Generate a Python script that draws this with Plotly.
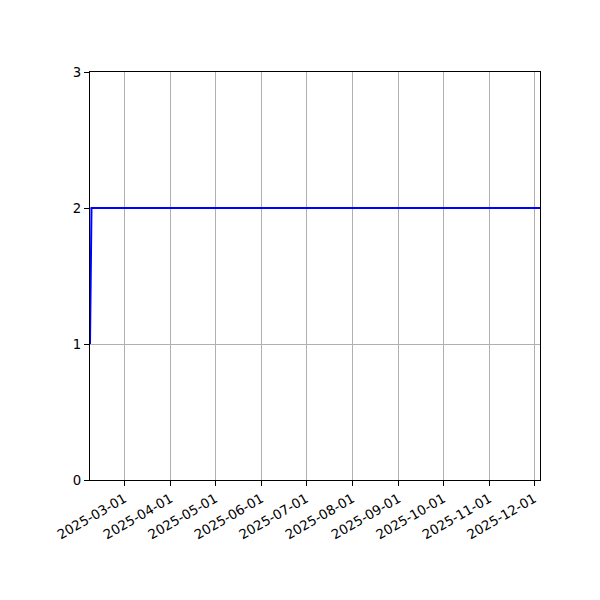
import plotly.graph_objects as go

dates = ["2025-02-06", "2025-02-07", "2025-12-05"]
values = [1, 2, 2]
tick_dates = ["2025-03-01", "2025-04-01", "2025-05-01", "2025-06-01", "2025-07-01",
              "2025-08-01", "2025-09-01", "2025-10-01", "2025-11-01", "2025-12-01"]
y_ticks = [0, 1, 2, 3]

fig = go.Figure()
fig.add_trace(go.Scatter(x=dates, y=values, mode="lines",
                         line=dict(color="#0000ff", width=2), showlegend=False))

fig.update_layout(
    width=600, height=600,
    margin=dict(l=82, r=68, t=64, b=128),
    paper_bgcolor="white", plot_bgcolor="white",
    font=dict(family="DejaVu Sans", size=13.3, color="black"),
)
fig.update_xaxes(
    type="date", range=["2025-02-06", "2025-12-05"],
    tickvals=tick_dates, ticktext=tick_dates, tickangle=-30,
    showgrid=True, gridcolor="#b0b0b0", gridwidth=1,
    showline=True, linecolor="black", linewidth=1, mirror=True,
    ticks="outside", ticklen=5, tickcolor="black", zeroline=False,
)
fig.update_yaxes(
    range=[0, 3], tickvals=y_ticks,
    showgrid=True, gridcolor="#b0b0b0", gridwidth=1,
    showline=True, linecolor="black", linewidth=1, mirror=True,
    ticks="outside", ticklen=5, tickcolor="black", zeroline=False,
)

fig.write_html("out.html")
